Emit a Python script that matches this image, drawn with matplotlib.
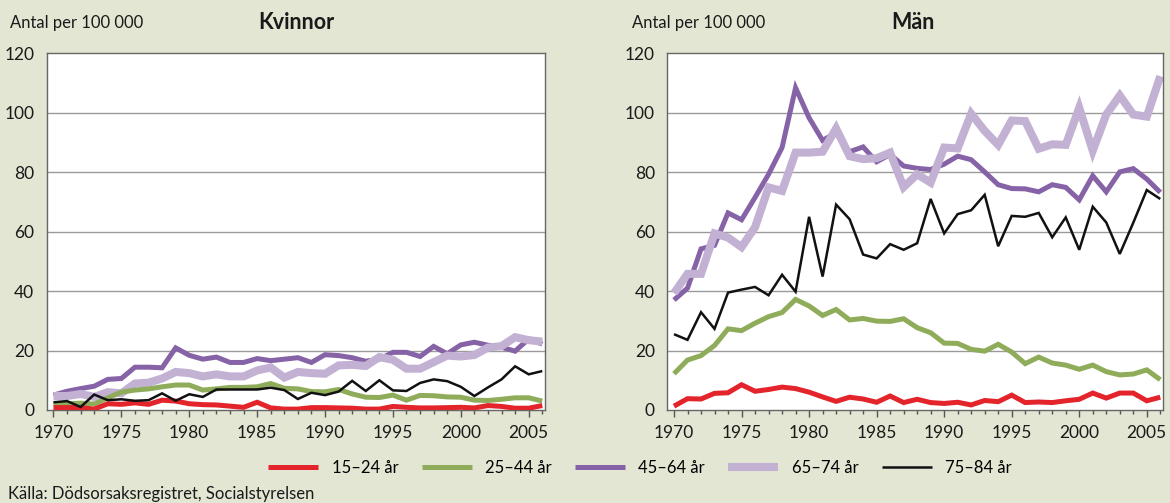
import matplotlib
matplotlib.use("Agg")
import matplotlib.pyplot as plt
import numpy as np
from matplotlib.ticker import MultipleLocator

years = np.arange(1970, 2007)

# Kvinnor
red_w = [0.8, 0.8, 0.8, 0.3, 2.1, 1.9, 2.4, 1.9, 3.3, 3.0,
         2.1, 1.8, 1.7, 1.3, 0.9, 2.6, 0.7, 0.3, 0.3, 0.8,
         0.8, 0.7, 0.6, 0.3, 0.3, 1.2, 0.9, 0.7, 0.7, 0.8,
         0.9, 0.7, 1.5, 1.2, 0.6, 0.6, 1.5]
green_w = [1.9, 2.1, 2.3, 2.0, 4.1, 6.0, 6.7, 7.1, 7.8, 8.4,
           8.4, 6.7, 7.1, 7.6, 7.6, 7.8, 8.9, 7.3, 7.1, 6.2,
           6.1, 6.9, 5.4, 4.3, 4.2, 5.0, 3.3, 4.9, 4.8, 4.4,
           4.3, 3.3, 3.2, 3.6, 4.1, 4.1, 3.0]
purple_w = [5.0, 6.3, 7.2, 8.0, 10.3, 10.6, 14.4, 14.4, 14.2, 20.9,
            18.4, 17.1, 17.8, 16.0, 16.0, 17.3, 16.6, 17.1, 17.6, 16.0,
            18.6, 18.3, 17.6, 16.4, 17.1, 19.4, 19.4, 18.0, 21.4, 18.9,
            21.9, 22.8, 21.8, 21.1, 19.8, 23.9, 22.2]
lav_w = [4.7, 4.7, 5.4, 4.4, 6.0, 5.6, 8.9, 9.2, 10.6, 12.8,
         12.4, 11.3, 12.0, 11.3, 11.3, 13.3, 14.3, 10.9, 12.8, 12.4,
         12.2, 15.0, 15.2, 14.8, 17.8, 16.9, 13.9, 13.9, 16.1, 18.3,
         18.0, 18.5, 21.0, 21.5, 24.5, 23.5, 23.0]
black_w = [2.6, 3.0, 1.0, 5.2, 3.3, 3.6, 3.1, 3.3, 5.6, 3.1,
           5.3, 4.4, 6.9, 6.9, 6.9, 6.9, 7.5, 6.7, 3.7, 5.8,
           5.0, 6.2, 9.8, 6.4, 10.0, 6.6, 6.4, 9.1, 10.3, 9.7,
           7.8, 4.7, 7.6, 10.3, 14.7, 12.0, 13.1]

# Män
red_m = [1.3, 3.8, 3.7, 5.6, 5.8, 8.5, 6.3, 6.9, 7.7, 7.2,
         6.0, 4.4, 2.9, 4.3, 3.7, 2.6, 4.7, 2.5, 3.6, 2.5,
         2.2, 2.6, 1.7, 3.2, 2.8, 5.0, 2.5, 2.7, 2.5, 3.1,
         3.6, 5.7, 4.0, 5.7, 5.7, 3.1, 4.3]
green_m = [12.2, 16.8, 18.3, 21.7, 27.3, 26.7, 29.2, 31.4, 32.8, 37.2,
           35.0, 31.8, 33.8, 30.3, 30.8, 29.9, 29.8, 30.7, 27.7, 26.0,
           22.5, 22.4, 20.4, 19.8, 22.1, 19.5, 15.6, 17.8, 15.8, 15.1,
           13.7, 15.1, 12.9, 11.8, 12.1, 13.5, 10.2]
purple_m = [37.0, 41.0, 54.2, 55.4, 66.3, 64.0, 71.5, 79.3, 88.3, 108.4,
            98.3, 90.7, 93.3, 86.9, 88.5, 83.5, 86.0, 82.1, 81.3, 80.9,
            82.7, 85.4, 84.2, 80.1, 75.8, 74.5, 74.4, 73.4, 75.8, 74.9,
            70.7, 78.8, 73.4, 80.1, 81.2, 77.7, 73.2]
lav_m = [39.3, 45.8, 45.8, 59.4, 58.0, 54.8, 61.5, 74.9, 73.7, 86.6,
         86.6, 86.9, 94.7, 85.4, 84.4, 84.7, 86.6, 75.0, 79.3, 76.5,
         88.3, 88.0, 99.7, 93.9, 89.2, 97.4, 97.2, 87.9, 89.4, 89.2,
         101.7, 87.2, 99.4, 105.8, 99.4, 98.7, 112.3]
black_m = [25.5, 23.6, 32.9, 27.3, 39.5, 40.5, 41.4, 38.6, 45.5, 39.8,
           65.0, 44.9, 69.1, 64.2, 52.3, 51.0, 55.8, 53.9, 56.1, 71.0,
           59.4, 65.9, 67.2, 72.4, 55.1, 65.3, 65.0, 66.3, 58.1, 64.8,
           53.9, 68.4, 63.1, 52.5, 63.0, 74.0, 71.0]

labels = ["15–24 år", "25–44 år", "45–64 år", "65–74 år", "75–84 år"]
colors = ["#e3242b", "#8fac5a", "#8662a6", "#c3b1d4", "#111111"]
widths = [3.6, 3.6, 3.6, 5.8, 1.8]
zorders = [4, 3, 2, 2.5, 5]

bg = "#e2e6d3"
plt.rcParams["font.family"] = ["Lato", "DejaVu Sans"]

fig = plt.figure(figsize=(11.7, 5.03), dpi=100, facecolor=bg)
ax1 = fig.add_axes([0.0399, 0.1849, 0.4259, 0.7091])
ax2 = fig.add_axes([0.5703, 0.1849, 0.4237, 0.7091])

panels = [
    (ax1, [red_w, green_w, purple_w, lav_w, black_w]),
    (ax2, [red_m, green_m, purple_m, lav_m, black_m]),
]

for ax, series in panels:
    ax.set_facecolor("white")
    for vals, lab, c, lw, z in zip(series, labels, colors, widths, zorders):
        ax.plot(years, vals, color=c, lw=lw, label=lab, zorder=z,
                solid_joinstyle="miter", solid_capstyle="butt")
    ax.set_xlim(1969.5, 2006.2)
    ax.set_ylim(0, 120)
    ax.set_yticks(range(0, 121, 20))
    ax.xaxis.set_major_locator(MultipleLocator(5))
    ax.xaxis.set_minor_locator(MultipleLocator(1))
    for y in range(20, 120, 20):
        ax.axhline(y, color="#9a9a9a", lw=1.0, zorder=1)
    for s in ax.spines.values():
        s.set_color("#666666")
        s.set_linewidth(1.0)
    ax.tick_params(axis="y", length=0, pad=9, labelsize=12.5, labelcolor="#1a1a1a")
    ax.tick_params(axis="x", which="major", length=5, width=1, color="#555555",
                   pad=6, labelsize=12.5, labelcolor="#1a1a1a")
    ax.tick_params(axis="x", which="minor", length=3, width=1, color="#555555")

fig.text(0.0085, 0.955, "Antal per 100 000", fontsize=12, ha="left", va="center",
         color="#1a1a1a")
fig.text(0.540, 0.955, "Antal per 100 000", fontsize=12, ha="left", va="center",
         color="#1a1a1a")
fig.text(0.253, 0.955, "Kvinnor", fontsize=15.5, fontweight="bold", ha="center",
         va="center", color="#1a1a1a")
fig.text(0.780, 0.955, "Män", fontsize=15.5, fontweight="bold", ha="center",
         va="center", color="#1a1a1a")

handles, labs = ax1.get_legend_handles_labels()
fig.legend(handles, labs, loc="center", bbox_to_anchor=(0.547, 0.069), ncol=5,
           frameon=False, fontsize=12, handlelength=3.0, handletextpad=0.8,
           columnspacing=1.4)

fig.text(0.007, 0.018, "Källa: Dödsorsaksregistret, Socialstyrelsen", fontsize=12,
         ha="left", va="center", color="#1a1a1a")

fig.savefig("out.png", dpi=100, facecolor=bg)
